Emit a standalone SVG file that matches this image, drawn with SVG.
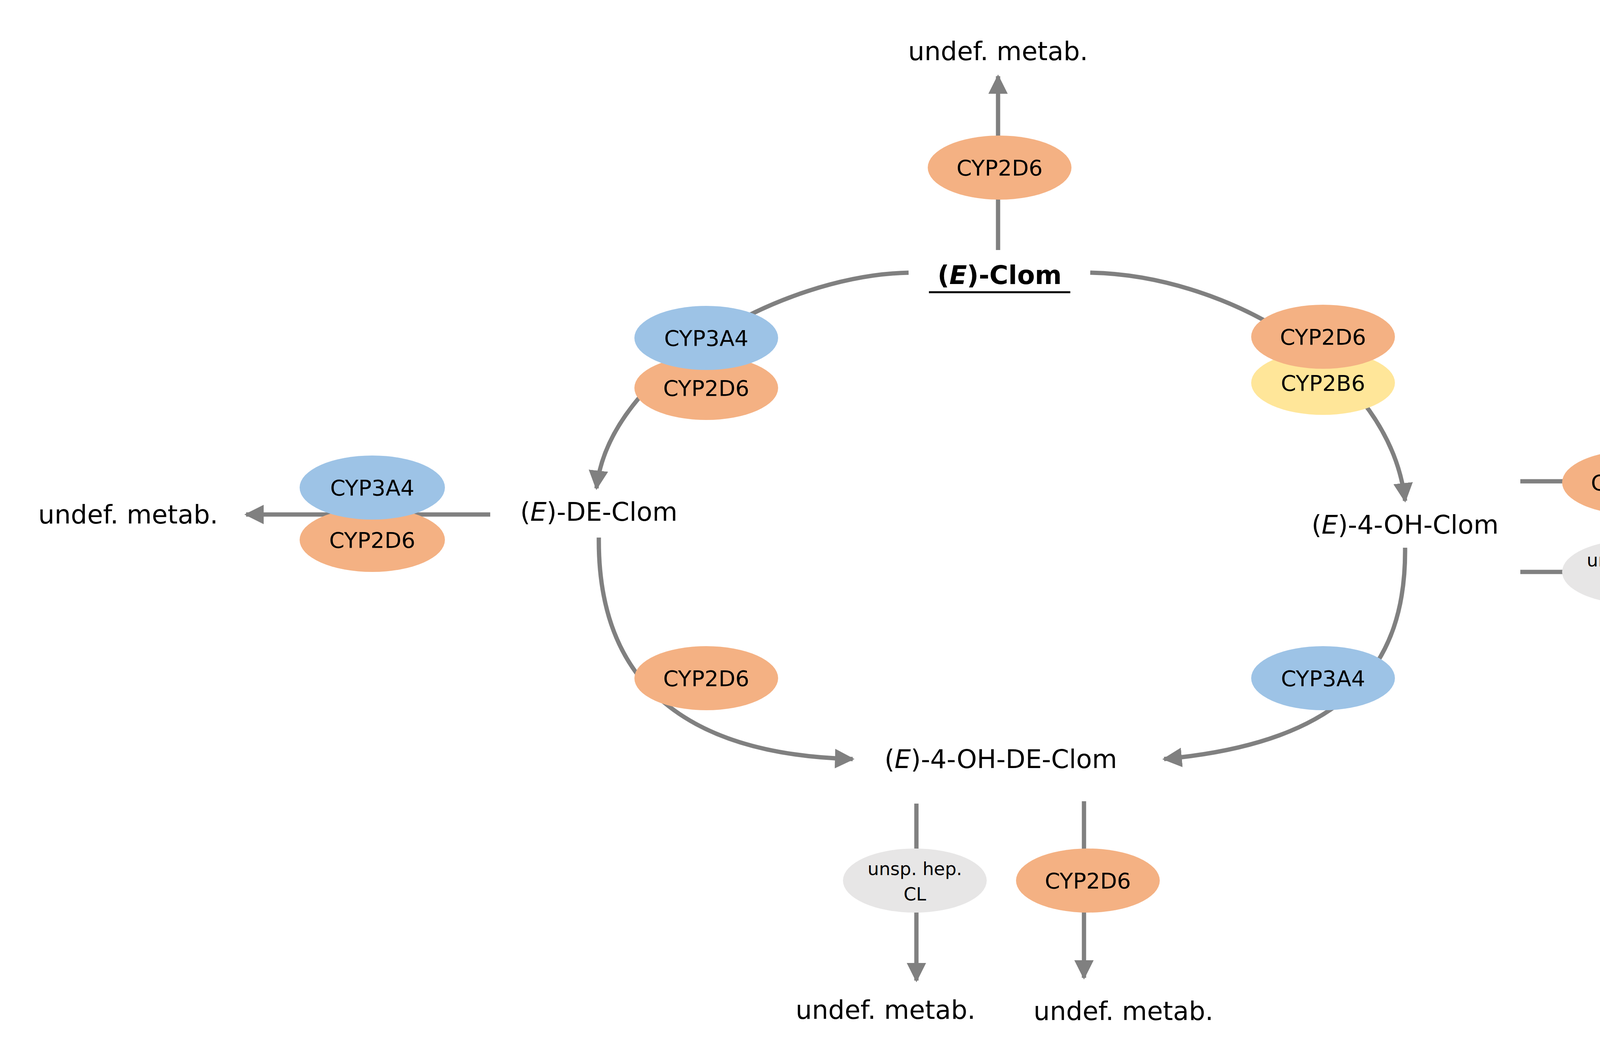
<svg xmlns="http://www.w3.org/2000/svg" width="5111" height="2698" viewBox="0 0 5111 2698">
<style>
text{font-family:"DejaVu Sans","Liberation Sans",sans-serif;fill:#000;text-anchor:middle}
.m{font-size:66px}
.e{font-size:56px}
.s{font-size:46px}
.c{fill:none;stroke:#808080;stroke-width:11}
.o{fill:#F4B183}.b{fill:#9DC3E6}.y{fill:#FFE699}.g{fill:#E7E6E6}
</style>
<defs>
<marker id="a" markerUnits="userSpaceOnUse" markerWidth="50" markerHeight="50" refX="40" refY="22" orient="auto" viewBox="0 0 44 44">
<path d="M0,0 L44,22 L0,44 Z" fill="#808080"/>
</marker>
</defs>
<g id="connectors">
<path class="c" d="M2555,640 L2555,195" marker-end="url(#a)"/>
<path class="c" d="M2326,698 C2000,705 1560,950 1527,1250" marker-end="url(#a)"/>
<path class="c" d="M2791,698 C3150,705 3560,950 3597,1282" marker-end="url(#a)"/>
<path class="c" d="M1533,1376 C1530,1700 1700,1930 2183,1943" marker-end="url(#a)"/>
<path class="c" d="M3597,1402 C3600,1700 3450,1900 2980,1943" marker-end="url(#a)"/>
<path class="c" d="M1255,1317 L630,1317" marker-end="url(#a)"/>
<path class="c" d="M3892,1232 L4520,1232" marker-end="url(#a)"/>
<path class="c" d="M3892,1464 L4520,1464" marker-end="url(#a)"/>
<path class="c" d="M2346,2057 L2346,2510" marker-end="url(#a)"/>
<path class="c" d="M2775,2051 L2775,2503" marker-end="url(#a)"/>
</g>
<g id="n-top-undef"><text class="m" x="2555" y="154">undef. metab.</text></g>
<g id="e-top"><ellipse class="o" cx="2559" cy="429" rx="184" ry="82"/><text class="e" x="2559" y="449">CYP2D6</text></g>
<g id="n-clom"><text class="m" x="2559" y="727" font-weight="bold">(<tspan font-style="italic">E</tspan>)-Clom</text><line x1="2378" y1="748" x2="2740" y2="748" stroke="#000" stroke-width="5"/></g>
<g id="e-l1"><ellipse class="o" cx="1808" cy="993" rx="184" ry="82"/><text class="e" x="1808" y="1013">CYP2D6</text><ellipse class="b" cx="1808" cy="865" rx="184" ry="82"/><text class="e" x="1808" y="885">CYP3A4</text></g>
<g id="e-r1"><ellipse class="y" cx="3387" cy="980" rx="184" ry="82"/><text class="e" x="3387" y="1000">CYP2B6</text><ellipse class="o" cx="3387" cy="862" rx="184" ry="82"/><text class="e" x="3387" y="882">CYP2D6</text></g>
<g id="n-de"><text class="m" x="1533" y="1333">(<tspan font-style="italic">E</tspan>)-DE-Clom</text></g>
<g id="e-left"><ellipse class="o" cx="953" cy="1382" rx="186" ry="82"/><text class="e" x="953" y="1402">CYP2D6</text><ellipse class="b" cx="953" cy="1248" rx="186" ry="82"/><text class="e" x="953" y="1268">CYP3A4</text></g>
<g id="n-left-undef"><text class="m" x="328" y="1340">undef. metab.</text></g>
<g id="n-4oh"><text class="m" x="3597" y="1366">(<tspan font-style="italic">E</tspan>)-4-OH-Clom</text></g>
<g id="e-r2"><ellipse class="o" cx="4183" cy="1235" rx="184" ry="82"/><text class="e" x="4183" y="1255">CYP2D6</text></g>
<g id="n-r2-undef"><text class="m" x="4832" y="1250">undef. metab.</text></g>
<g id="e-r3"><ellipse class="g" cx="4183" cy="1464" rx="184" ry="82"/><text class="s" x="4183" y="1450">unsp. hep.</text><text class="s" x="4183" y="1515">CL</text></g>
<g id="n-r3-undef"><text class="m" x="4832" y="1482">undef. metab.</text></g>
<g id="e-bl"><ellipse class="o" cx="1808" cy="1736" rx="184" ry="82"/><text class="e" x="1808" y="1756">CYP2D6</text></g>
<g id="e-br"><ellipse class="b" cx="3387" cy="1736" rx="184" ry="82"/><text class="e" x="3387" y="1756">CYP3A4</text></g>
<g id="n-4ohde"><text class="m" x="2562" y="1966">(<tspan font-style="italic">E</tspan>)-4-OH-DE-Clom</text></g>
<g id="e-d1"><ellipse class="g" cx="2342" cy="2254" rx="184" ry="82"/><text class="s" x="2342" y="2240">unsp. hep.</text><text class="s" x="2342" y="2305">CL</text></g>
<g id="e-d2"><ellipse class="o" cx="2785" cy="2254" rx="184" ry="82"/><text class="e" x="2785" y="2274">CYP2D6</text></g>
<g id="n-d1-undef"><text class="m" x="2267" y="2608">undef. metab.</text></g>
<g id="n-d2-undef"><text class="m" x="2876" y="2611">undef. metab.</text></g>
</svg>
